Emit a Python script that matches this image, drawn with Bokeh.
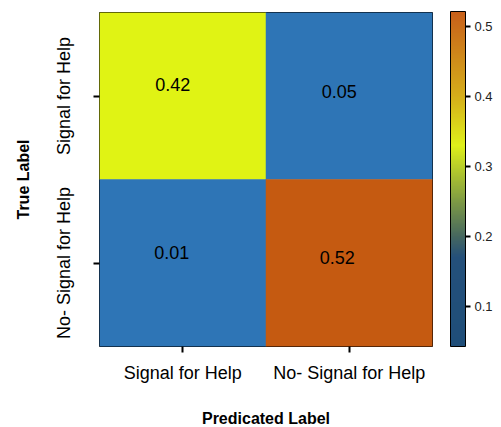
import numpy as np
from bokeh.plotting import figure
from bokeh.models import ColumnDataSource, ColorBar, LinearColorMapper, FixedTicker, FactorRange
from bokeh.embed import file_html
from bokeh.resources import INLINE
from bokeh.core.properties import value

# ---- data ----
pred_labels = ["Signal for Help", "No- Signal for Help"]
true_labels = ["No- Signal for Help", "Signal for Help"]  # bottom to top
cell_pred = ["Signal for Help", "No- Signal for Help", "Signal for Help", "No- Signal for Help"]
cell_true = ["Signal for Help", "Signal for Help", "No- Signal for Help", "No- Signal for Help"]
cell_values = [0.42, 0.05, 0.01, 0.52]
cell_text = ["0.42", "0.05", "0.01", "0.52"]
cell_colors = ["#E0F314", "#2E75B6", "#2E75B6", "#C55A11"]
cbar_ticks = [0.1, 0.2, 0.3, 0.4, 0.5]
cbar_low, cbar_high = 0.043, 0.521

# ---- style ----
label_dx = [-10, -10, -11, -12]
label_dy = [-12, -5, -11, -6]
FONT = "Liberation Sans"

# colour-bar gradient stops
stop_v = [0.043, 0.17, 0.20, 0.25, 0.30, 0.33, 0.40, 0.521]
stop_c = ["#1F4E79", "#24507A", "#46685F", "#7E9A45", "#B9CE2A", "#DFF01A", "#D5AE1A", "#C8601A"]
def hex2rgb(h):
    return [int(h[i:i + 2], 16) for i in (1, 3, 5)]
rgbs = np.array([hex2rgb(c) for c in stop_c], dtype=float)
vs = np.linspace(cbar_low, cbar_high, 256)
palette = []
for v in vs:
    r = np.interp(v, stop_v, rgbs[:, 0]); g = np.interp(v, stop_v, rgbs[:, 1]); b = np.interp(v, stop_v, rgbs[:, 2])
    palette.append("#%02x%02x%02x" % (int(round(r)), int(round(g)), int(round(b))))

src = ColumnDataSource(dict(pred=cell_pred, true=cell_true, val=cell_values, txt=cell_text,
                            color=cell_colors, dx=label_dx, dy=label_dy))

p = figure(x_range=FactorRange(*pred_labels), y_range=FactorRange(*true_labels),
           frame_width=333, frame_height=334, output_backend="svg", toolbar_location=None,
           min_border_left=99, min_border_top=12, min_border_bottom=78, min_border_right=10)

p.rect(x="pred", y="true", width=1, height=1, fill_color="color", line_color="color",
       line_width=0.5, source=src)
p.text(x="pred", y="true", text="txt", x_offset="dx", y_offset="dy", source=src,
       text_align="center", text_baseline="middle", text_font=value(FONT),
       text_font_size="18px", text_color="black")

p.grid.grid_line_color = None
p.outline_line_color = "black"
p.outline_line_width = 1
p.background_fill_color = "white"

for ax in (p.xaxis[0], p.yaxis[0]):
    ax.axis_line_color = None
    ax.major_tick_line_color = "black"
    ax.major_tick_line_width = 2
    ax.major_tick_out = 6
    ax.major_tick_in = 0
    ax.major_label_text_font = FONT
    ax.major_label_text_font_size = "18px"
    ax.major_label_text_color = "black"
    ax.axis_label_text_font = FONT
    ax.axis_label_text_font_size = "16px"
    ax.axis_label_text_font_style = "bold"
    ax.axis_label_text_color = "black"

p.xaxis.axis_label = "Predicated Label"
p.yaxis.axis_label = "True Label"
p.xaxis.major_label_standoff = 10
p.xaxis.axis_label_standoff = 24
p.yaxis.major_label_orientation = "vertical"
p.yaxis.major_label_standoff = 20
p.yaxis.axis_label_standoff = 19

mapper = LinearColorMapper(palette=palette, low=cbar_low, high=cbar_high)
cb = ColorBar(color_mapper=mapper, ticker=FixedTicker(ticks=cbar_ticks), width=15, height=335,
              padding=0, location=(18, 0),
              bar_line_color="black", bar_line_width=1,
              major_tick_out=5, major_tick_in=0, major_tick_line_color="black", major_tick_line_width=2,
              minor_tick_line_color=None,
              label_standoff=4, major_label_text_font=FONT, major_label_text_font_size="13px",
              major_label_text_color="#222222",
              border_line_color=None, background_fill_color=None)
p.add_layout(cb, "right")

open("out.html", "w").write(file_html(p, INLINE))
